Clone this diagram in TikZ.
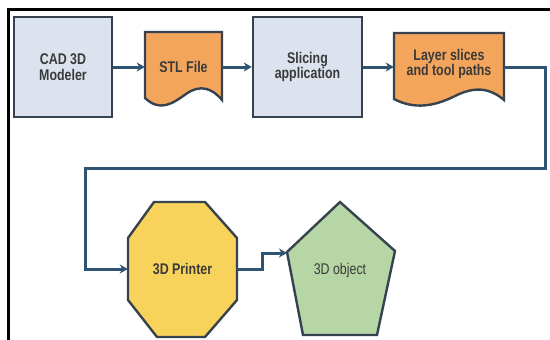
\documentclass[tikz,border=0pt]{standalone}
\usepackage{fontspec}
\setmainfont[FakeStretch=0.8]{Liberation Sans}
\usetikzlibrary{arrows.meta}
\definecolor{boxblue}{HTML}{DCE3EE}
\definecolor{boxedge}{HTML}{36434F}
\definecolor{docorange}{HTML}{F4A55C}
\definecolor{octyellow}{HTML}{F8D35C}
\definecolor{pentgreen}{HTML}{B6D6A6}
\definecolor{connblue}{HTML}{2F5373}
\definecolor{txt}{HTML}{3A3A3A}
\tikzset{
  lbl/.style={text=txt, font=\bfseries\fontsize{15.5}{15.5}\selectfont, align=center, inner sep=0pt},
  procbox/.style={lbl, draw=boxedge, fill=boxblue, line width=2.4pt, minimum width=98pt, minimum height=100pt},
  shapeedge/.style={draw=boxedge, line width=2.4pt, line join=miter},
  conn/.style={draw=connblue, line width=3pt, -{Stealth[length=8pt,width=9pt,inset=2.5pt]}},
}
\begin{document}
\begin{tikzpicture}[x=1pt,y=-1pt]
\useasboundingbox (0,0) rectangle (550,340);
% frame
\draw[line width=3.6pt, black] (8.5,345) -- (8.5,9.5) -- (555,9.5);
% CAD box
\node[procbox] (cad) at (63,67) {CAD 3D\\Modeler};
% STL document
\draw[shapeedge, fill=docorange] (145,32) -- (222,32) -- (222,100)
  .. controls (212,88) and (200,84) .. (186,94)
  .. controls (172,104) and (160,112) .. (145,98) -- cycle;
\node[lbl, minimum width=77pt, minimum height=60pt] (stl) at (183.5,67) {STL File};
% Slicing box
\node[procbox, minimum width=109pt] (slice) at (307.5,67) {Slicing\\application};
% Layer slices document
\draw[shapeedge, fill=docorange] (394,33) -- (504,33) -- (504,100)
  .. controls (490,88) and (475,86) .. (455,96)
  .. controls (435,106) and (415,110) .. (394,99) -- cycle;
\node[lbl, minimum width=110pt, minimum height=60pt] (layer) at (449,64) {Layer slices\\and tool paths};
% Octagon
\draw[shapeedge, fill=octyellow] (154,202) -- (205,202) -- (237,238) -- (237,300) -- (205,337) -- (157,337) -- (128,300) -- (128,238) -- cycle;
\node[lbl, minimum width=109pt, minimum height=60pt] (oct) at (182.5,269) {3D Printer};
% Pentagon
\draw[shapeedge, fill=pentgreen] (340,202) -- (395,251) -- (377,335) -- (303,335) -- (287,252) -- cycle;
\node[lbl, font=\fontsize{15.5}{15.5}\selectfont] (obj) at (340,270) {3D object};
\coordinate (pentL) at (287,253);
% connectors
\draw[conn] (cad.east) -- (stl.west);
\draw[conn] (stl.east) -- (slice.west);
\draw[conn] (slice.east) -- (layer.west |- slice.east);
\coordinate (c1) at (545,168);
\coordinate (c2) at (85,168);
\draw[conn, line join=miter] (layer.east |- slice.east) -| (c1) -- (c2) |- (oct.west);
\draw[conn, line join=miter] (oct.east) -- ++(25,0) |- (pentL);
\end{tikzpicture}
\end{document}
